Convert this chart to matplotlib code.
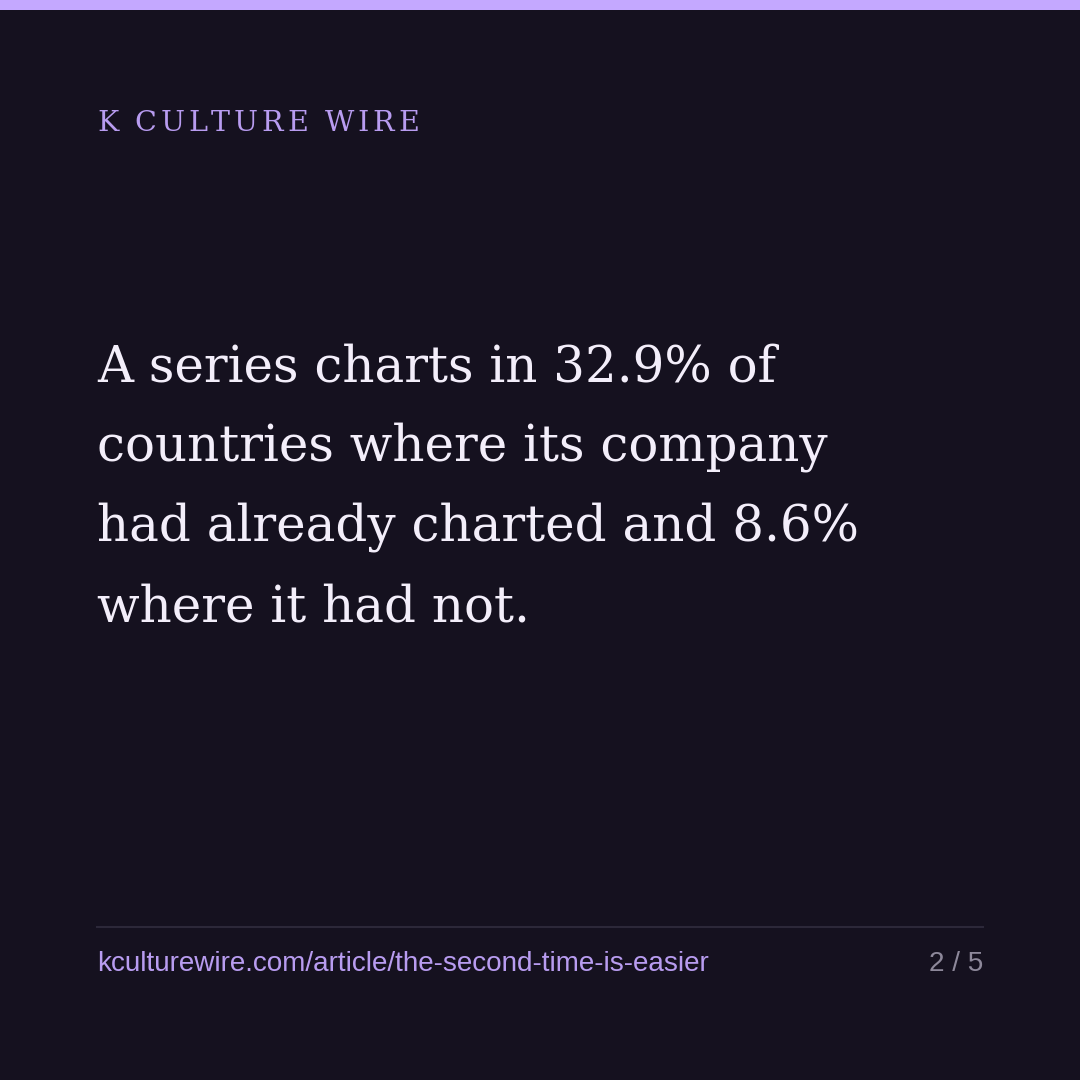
import matplotlib
matplotlib.use("Agg")
import matplotlib.pyplot as plt
from matplotlib.lines import Line2D

# card text
brand = "K CULTURE WIRE"
headline_lines = [
    "A series charts in 32.9% of",
    "countries where its company",
    "had already charted and 8.6%",
    "where it had not.",
]
footer_url = "kculturewire.com/article/the-second-time-is-easier"
page_label = "2 / 5"

BG = "#15111f"
ACCENT = "#c4a8ff"
BRAND_COL = "#b89cf0"
TEXT_COL = "#f3eefa"
RULE_COL = "#2c2839"
PAGE_COL = "#8d889a"

W = H = 1080
fig = plt.figure(figsize=(10.8, 10.8), dpi=100, facecolor=BG)
ax = fig.add_axes([0, 0, 1, 1])
ax.set_xlim(0, W)
ax.set_ylim(H, 0)
ax.axis("off")
ax.set_facecolor(BG)

# top accent strip
ax.axhspan(0, 10, color=ACCENT, lw=0)

# brand, letter-spaced by hand
fig.canvas.draw()
renderer = fig.canvas.get_renderer()
x = 97
for ch in brand:
    t = ax.text(x, 131, ch, fontsize=20.5, family="DejaVu Serif", color=BRAND_COL,
                ha="left", va="baseline")
    bb = t.get_window_extent(renderer)
    x += bb.width + 3.8

# headline
for i, line in enumerate(headline_lines):
    ax.text(97, 381 + i * 80, line, fontsize=35.9, family="DejaVu Serif",
            color=TEXT_COL, ha="left", va="baseline")

# footer rule and labels
ax.add_line(Line2D([97, 983], [927, 927], color=RULE_COL, lw=1.5))
ax.text(97, 971, footer_url, fontsize=20.1, family="Liberation Sans",
        color=BRAND_COL, ha="left", va="baseline")
ax.text(983, 971, page_label, fontsize=20.1, family="Liberation Sans",
        color=PAGE_COL, ha="right", va="baseline")

fig.savefig("out.png", dpi=100, facecolor=BG)
